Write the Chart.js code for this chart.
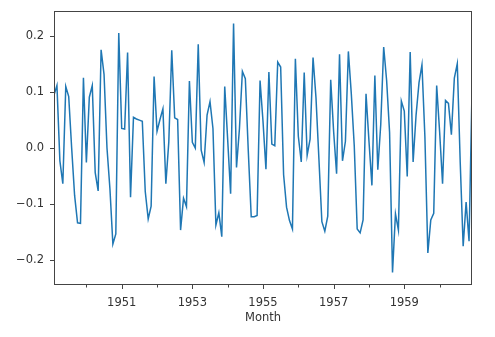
<!DOCTYPE html>
<html>
<head>
<meta charset="utf-8">
<script src="https://cdn.jsdelivr.net/npm/chart.js@4.4.1/dist/chart.umd.min.js"></script>
<style>
  html, body { margin: 0; padding: 0; background: #fff; }
  #wrap { width: 495px; height: 337px; }
</style>
</head>
<body>
<div id="wrap"><canvas id="chart" width="495" height="337"></canvas></div>
<script>
// Month-on-month log change, one value per month from Feb 1949 to Dec 1960
const startYear = 1949;
const startMonth = 2;

const values = [
  /* 1949 */ 0.095, 0.112, -0.023, -0.064, 0.110, 0.092, 0.000, -0.085, -0.134, -0.135, 0.126,
  /* 1950 */ -0.026, 0.091, 0.112, -0.044, -0.077, 0.176, 0.132, 0.000, -0.073, -0.172, -0.154, 0.206,
  /* 1951 */ 0.035, 0.034, 0.171, -0.088, 0.055, 0.052, 0.050, 0.048, -0.078, -0.127, -0.104, 0.128,
  /* 1952 */ 0.030, 0.051, 0.070, -0.064, 0.011, 0.175, 0.054, 0.051, -0.147, -0.090, -0.105, 0.120,
  /* 1953 */ 0.010, 0.000, 0.186, -0.004, -0.026, 0.059, 0.083, 0.035, -0.138, -0.116, -0.159, 0.110,
  /* 1954 */ 0.015, -0.082, 0.223, -0.035, 0.035, 0.137, 0.124, -0.005, -0.123, -0.123, -0.121, 0.121,
  /* 1955 */ 0.048, -0.038, 0.136, 0.007, 0.004, 0.154, 0.145, -0.048, -0.106, -0.130, -0.145, 0.160,
  /* 1956 */ 0.021, -0.025, 0.135, -0.013, 0.016, 0.162, 0.090, -0.020, -0.132, -0.149, -0.122, 0.122,
  /* 1957 */ 0.029, -0.046, 0.168, -0.023, 0.012, 0.173, 0.097, 0.004, -0.145, -0.152, -0.129, 0.097,
  /* 1958 */ 0.012, -0.067, 0.130, -0.039, 0.042, 0.181, 0.121, 0.028, -0.223, -0.118, -0.147, 0.084,
  /* 1959 */ 0.066, -0.051, 0.172, -0.025, 0.059, 0.117, 0.149, 0.020, -0.188, -0.129, -0.117, 0.112,
  /* 1960 */ 0.029, -0.064, 0.085, 0.080, 0.024, 0.125, 0.151, -0.026, -0.176, -0.097, -0.167, 0.102
];

// year boundaries get a tick, odd years get a label too
const yearTicks = [1950, 1951, 1952, 1953, 1954, 1955, 1956, 1957, 1958, 1959, 1960];
const labeledYears = [1951, 1953, 1955, 1957, 1959];
const yTicks = [-0.2, -0.1, 0.0, 0.1, 0.2];
const yMin = -0.2454;
const yMax = 0.2454;

const textColor = '#333';
const spineColor = '#444';
const tickFont = { family: 'DejaVu Sans', size: 11.5 };

// position of a given month on the x axis (0 = first sample)
function monthIndex(year, month) {
  return (year - startYear) * 12 + (month - startMonth);
}

// matplotlib-style number with a real minus sign
function formatY(v) {
  return v.toFixed(1).replace('-', '\u2212');
}

// axes frame plus the small outward tick marks
const frameAndTicks = {
  id: 'frameAndTicks',
  afterDraw(chart) {
    const { ctx, chartArea: a, scales: { x, y } } = chart;
    ctx.save();
    ctx.strokeStyle = spineColor;
    ctx.lineWidth = 1;
    ctx.beginPath();
    yearTicks.forEach(yr => {
      const px = Math.round(x.getPixelForValue(monthIndex(yr, 1))) + 0.5;
      const len = labeledYears.includes(yr) ? 4 : 2.5;
      ctx.moveTo(px, a.bottom);
      ctx.lineTo(px, a.bottom + len);
    });
    yTicks.forEach(v => {
      const py = Math.round(y.getPixelForValue(v)) + 0.5;
      ctx.moveTo(a.left, py);
      ctx.lineTo(a.left - 4, py);
    });
    ctx.stroke();
    ctx.strokeRect(Math.round(a.left) + 0.5, Math.round(a.top) + 0.5,
      Math.round(a.right - a.left) - 1, Math.round(a.bottom - a.top) - 1);
    ctx.restore();
  }
};

const ctx = document.getElementById('chart').getContext('2d');

new Chart(ctx, {
  type: 'line',
  data: {
    datasets: [{
      data: values.map((v, i) => ({ x: i, y: v })),
      borderColor: '#1f77b4',
      borderWidth: 1.5,
      pointRadius: 0,
      tension: 0,
      fill: false
    }]
  },
  options: {
    responsive: false,
    animation: false,
    layout: { padding: { left: 0, right: 23, top: 11, bottom: 0 } },
    plugins: {
      legend: { display: false },
      tooltip: { enabled: false }
    },
    scales: {
      x: {
        type: 'linear',
        min: 0,
        max: values.length - 1,
        afterBuildTicks: scale => {
          scale.ticks = labeledYears.map(yr => ({ value: monthIndex(yr, 1) }));
        },
        afterFit: scale => {
          scale.height = 52;
          scale.paddingLeft = 0;
          scale.paddingRight = 0;
        },
        ticks: {
          autoSkip: false,
          maxRotation: 0,
          padding: 11,
          color: textColor,
          font: tickFont,
          callback: v => String(startYear + (v + startMonth - 1) / 12)
        },
        grid: { display: false, drawTicks: false },
        border: { display: false },
        title: {
          display: true,
          text: 'Month',
          color: textColor,
          font: tickFont,
          padding: { top: 0, bottom: 12 }
        }
      },
      y: {
        min: yMin,
        max: yMax,
        afterBuildTicks: scale => {
          scale.ticks = yTicks.map(v => ({ value: v }));
        },
        afterFit: scale => {
          // labels sit well inside the axis, no extra room needed above/below
          scale.width = 54;
          scale.paddingTop = 0;
          scale.paddingBottom = 0;
        },
        ticks: {
          padding: 10,
          color: textColor,
          font: tickFont,
          callback: v => formatY(v)
        },
        grid: { display: false, drawTicks: false },
        border: { display: false }
      }
    }
  },
  plugins: [frameAndTicks]
});
</script>
</body>
</html>
